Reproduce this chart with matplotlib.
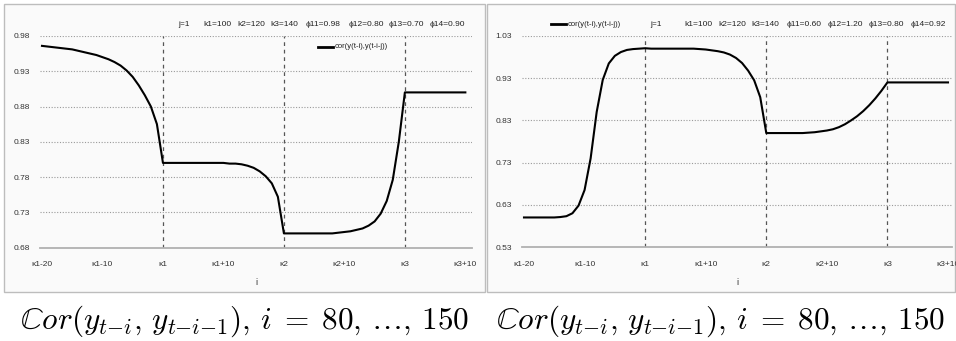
import numpy as np
import matplotlib

matplotlib.use("Agg")
import matplotlib.pyplot as plt
from matplotlib.patches import Rectangle

# ---- data -------------------------------------------------------------
lags = np.arange(80, 151)  # i = k1-20 ... k3+10
breaks = [100, 120, 140]   # k1, k2, k3
tick_pos = [80, 90, 100, 110, 120, 130, 140, 150]
tick_labels = ["\u03ba1-20", "\u03ba1-10", "\u03ba1", "\u03ba1+10",
               "\u03ba2", "\u03ba2+10", "\u03ba3", "\u03ba3+10"]

corr_left = (
    [0.966, 0.965, 0.964, 0.963, 0.962, 0.961, 0.959, 0.957, 0.955, 0.953,
     0.950, 0.947, 0.943, 0.938, 0.931, 0.922, 0.910, 0.896, 0.880, 0.855,
     0.800]
    + [0.800] * 10
    + [0.799, 0.799, 0.798, 0.796, 0.793, 0.788, 0.781, 0.771, 0.752, 0.700]
    + [0.700] * 8
    + [0.701, 0.702, 0.703, 0.705, 0.707, 0.711, 0.717, 0.728, 0.746, 0.776,
       0.830, 0.900]
    + [0.900] * 10
)
corr_right = (
    [0.600] * 6
    + [0.601, 0.603, 0.610, 0.628, 0.665, 0.740, 0.850, 0.926, 0.965, 0.983,
       0.992, 0.997, 0.999, 1.000, 1.001]
    + [1.000] * 8
    + [0.999, 0.998, 0.996, 0.994, 0.991, 0.986, 0.978, 0.966, 0.948, 0.925,
       0.885, 0.800]
    + [0.800] * 6
    + [0.801, 0.802, 0.804, 0.806, 0.809, 0.814, 0.821, 0.830, 0.840, 0.852,
       0.866, 0.882, 0.900, 0.920]
    + [0.920] * 10
)

params_left = ["j=1", "k1=100", "k2=120", "k3=140",
               "\u03d511=0.98", "\u03d512=0.80", "\u03d513=0.70", "\u03d514=0.90"]
params_right = ["j=1", "k1=100", "k2=120", "k3=140",
                "\u03d511=0.60", "\u03d512=1.20", "\u03d513=0.80", "\u03d514=0.92"]
yticks_left = [0.68, 0.73, 0.78, 0.83, 0.88, 0.93, 0.98]
yticks_right = [0.53, 0.63, 0.73, 0.83, 0.93, 1.03]
legend_label = "cor(y(t-i),y(t-i-j))"
caption = r"$\mathbb{C}or(y_{t{-}i},\, y_{t{-}i{-}1}),\, i\; =\; 80,\, \ldots,\, 150$"

# ---- layout -----------------------------------------------------------
W, H = 956, 341
FONTS = ["Liberation Sans Narrow", "Liberation Sans", "DejaVu Sans"]
plt.rcParams["font.family"] = FONTS
plt.rcParams["mathtext.fontset"] = "cm"

fig = plt.figure(figsize=(W / 100, H / 100), dpi=100)
fig.patch.set_facecolor("white")


def px(x0, y0, x1, y1):
    # pixel box (top-left origin) -> figure fraction rect
    return [x0 / W, 1 - y1 / H, (x1 - x0) / W, (y1 - y0) / H]


def panel(box, axbox, y, yticks, xlim, params, param_x, leg_x, leg_y):
    bx0, by0, bx1, by1 = box
    fig.patches.append(Rectangle((bx0 / W, 1 - by1 / H), (bx1 - bx0) / W, (by1 - by0) / H,
                                 transform=fig.transFigure, facecolor="#fafafa",
                                 edgecolor="#bdbdbd", lw=1.0, zorder=-5))
    ax = fig.add_axes(px(*axbox))
    ax.set_facecolor("none")
    ax.set_xlim(*xlim)
    ax.set_ylim(yticks[0], yticks[-1])

    for v in yticks[1:]:
        ax.axhline(v, color="#9a9a9a", lw=0.8, ls=(0, (1, 1.5)), zorder=1)
    for b in breaks:
        ax.axvline(b, color="#555555", lw=0.9, ls=(0, (3, 3)), zorder=1)

    ax.plot(lags, y, color="black", lw=1.5, zorder=3)

    for s in ["top", "right", "left"]:
        ax.spines[s].set_visible(False)
    ax.spines["bottom"].set_color("#b0b0b0")
    ax.spines["bottom"].set_linewidth(1.3)

    ax.set_yticks(yticks)
    ax.set_yticklabels([f"{v:.2f}" for v in yticks], fontsize=6, color="#333333")
    ax.set_xticks(tick_pos)
    ax.set_xticklabels(tick_labels, fontsize=6, color="#333333")
    ax.tick_params(length=0, pad=7)
    ax.tick_params(axis="x", pad=10)
    ax.set_xlabel("i", fontsize=6.5, labelpad=7, color="#333333")

    for t, xp in zip(params, param_x):
        fig.text(xp / W, 1 - 24 / H, t, fontsize=6, va="center", ha="left",
                 color="#222222", family=FONTS)

    fig.lines.append(plt.Line2D([leg_x / W, (leg_x + 15) / W], [1 - leg_y / H] * 2,
                                transform=fig.transFigure, color="black", lw=2))
    fig.text((leg_x + 17) / W, 1 - leg_y / H, legend_label, fontsize=5.5,
             va="center", ha="left", color="#222222")

    cx = (bx0 + bx1) / 2
    fig.text(cx / W, 1 - 321 / H, caption, fontsize=22.5, ha="center", va="center")
    return ax


panel((4, 4, 485, 292), (40, 36, 472, 247.5), corr_left, yticks_left,
      (79.67, 151.1), params_left,
      [178, 203, 237, 270, 306, 349, 389, 430], 318, 47)
panel((487, 4, 955, 292), (522, 36, 952, 247), corr_right, yticks_right,
      (79.67, 150.66), params_right,
      [650, 684, 718, 751, 787, 828, 869, 911], 551, 24)

fig.savefig("out.png", dpi=100)
